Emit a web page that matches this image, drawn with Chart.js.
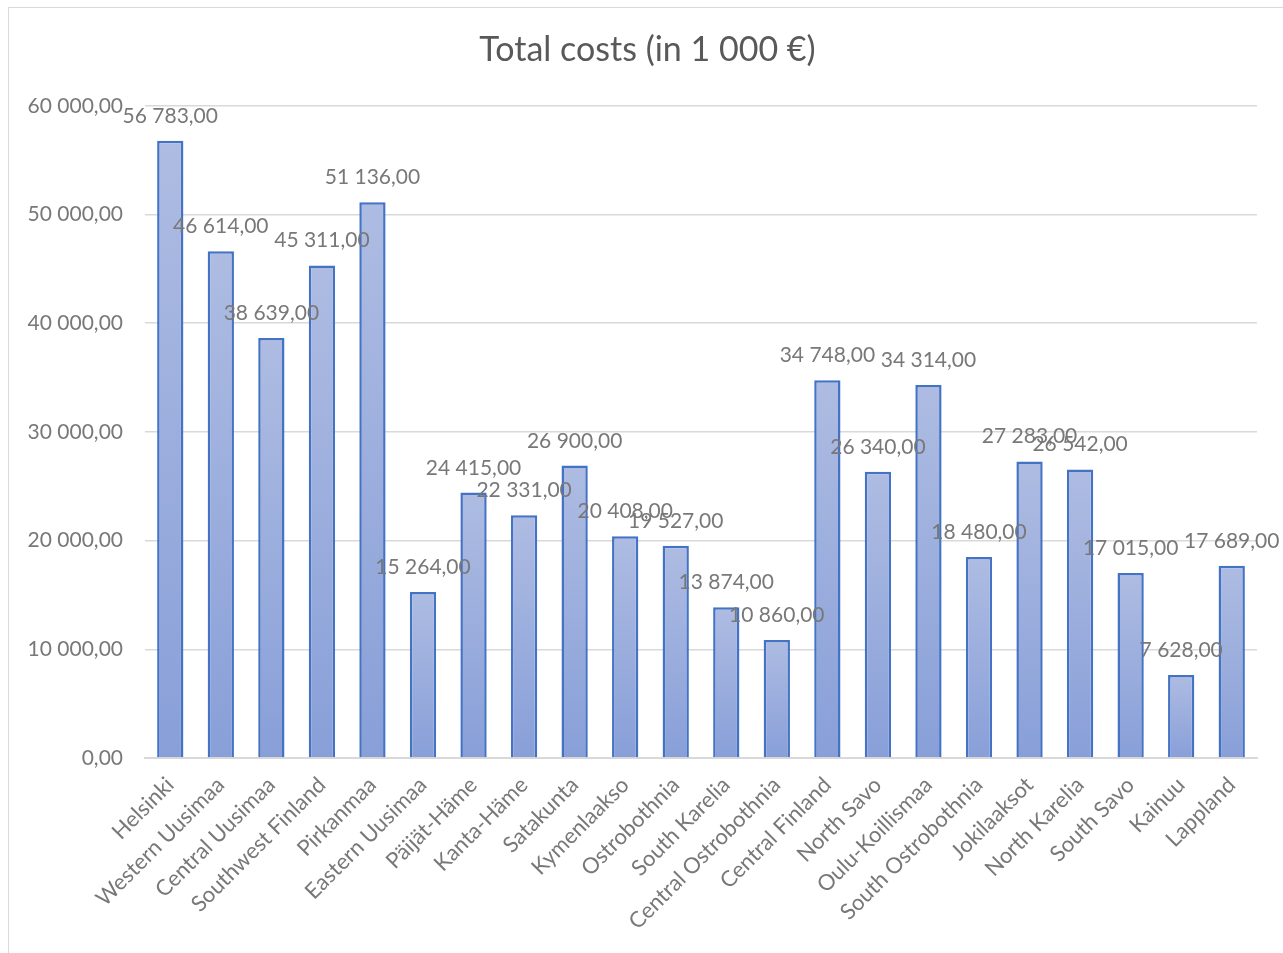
<!DOCTYPE html>
<html>
<head>
<meta charset="utf-8">
<script src="https://cdn.jsdelivr.net/npm/chart.js@4/dist/chart.umd.min.js"></script>
<style>
  html, body { margin: 0; padding: 0; background: #fff; overflow: hidden; }
  #wrap { position: relative; width: 1283px; height: 953px; }
  #frame {
    position: absolute; left: 8px; top: 7px; width: 1290px; height: 960px;
    border: 1px solid #d9d9d9; box-sizing: border-box; pointer-events: none;
  }
</style>
</head>
<body>
<div id="wrap">
  <canvas id="costChart" width="1283" height="953"></canvas>
  <div id="frame"></div>
</div>
<script>
const regions = [
  "Helsinki", "Western Uusimaa", "Central Uusimaa", "Southwest Finland",
  "Pirkanmaa", "Eastern Uusimaa", "Päijät-Häme", "Kanta-Häme", "Satakunta",
  "Kymenlaakso", "Ostrobothnia", "South Karelia", "Central Ostrobothnia",
  "Central Finland", "North Savo", "Oulu-Koillismaa", "South Ostrobothnia",
  "Jokilaaksot", "North Karelia", "South Savo", "Kainuu", "Lappland"
];
const totalCosts = [
  56783, 46614, 38639, 45311, 51136, 15264, 24415, 22331, 26900, 20408,
  19527, 13874, 10860, 34748, 26340, 34314, 18480, 27283, 26542, 17015,
  7628, 17689
];
const yTicks = [0, 10000, 20000, 30000, 40000, 50000, 60000];

const FONT = "Lato, 'Open Sans', sans-serif";
const GREY = "#787878";

// 56783 -> "56 783,00"
function fmt(v) {
  const parts = Number(v).toFixed(2).split(".");
  const intPart = parts[0].replace(/\B(?=(\d{3})+(?!\d))/g, " ");
  return intPart + "," + parts[1];
}

// values written above each bar
const valueLabels = {
  id: "valueLabels",
  afterDatasetsDraw(chart) {
    const ctx = chart.ctx;
    const meta = chart.getDatasetMeta(0);
    ctx.save();
    ctx.font = "21px " + FONT;
    ctx.fillStyle = GREY;
    ctx.textAlign = "center";
    ctx.textBaseline = "alphabetic";
    meta.data.forEach((bar, i) => {
      ctx.fillText(fmt(totalCosts[i]), bar.x, bar.y - 18);
    });
    ctx.restore();
  }
};

// centre the title over the frame rather than the whole canvas
const titleShift = {
  id: "titleShift",
  afterLayout(chart) {
    if (chart.titleBlock) chart.titleBlock.left += 38;
  }
};

new Chart(document.getElementById("costChart"), {
  type: "bar",
  data: {
    labels: regions,
    datasets: [
      {
        label: "Total costs",
        data: totalCosts,
        backgroundColor: (c) => {
          const chart = c.chart;
          if (!chart.chartArea || c.type !== "data") return "#9aaedd";
          const y = chart.scales.y;
          const top = y.getPixelForValue(c.raw);
          const base = y.getPixelForValue(0);
          const g = chart.ctx.createLinearGradient(0, top, 0, base);
          g.addColorStop(0, "#aebce2");
          g.addColorStop(1, "#889fd8");
          return g;
        },
        borderColor: "#4472c4",
        borderWidth: 2.5,
        borderSkipped: "bottom",
        barPercentage: 0.52,
        categoryPercentage: 1,
      },
    ],
  },
  options: {
    responsive: false,
    animation: false,
    layout: { padding: { left: 0, right: 26, top: 0, bottom: 0 } },
    plugins: {
      legend: { display: false },
      tooltip: { enabled: false },
      title: {
        display: true,
        text: "Total costs (in 1 000 €)",
        color: "#595959",
        font: { family: FONT, size: 34, weight: "normal" },
        padding: { top: 30, bottom: 35 },
      },
    },
    scales: {
      x: {
        grid: { display: false },
        border: { color: "#d9d9d9", width: 2 },
        ticks: {
          color: GREY,
          font: { family: FONT, size: 22 },
          minRotation: 45,
          maxRotation: 45,
          autoSkip: false,
          padding: 6,
        },
        afterFit(scale) { scale.height = 195; },
      },
      y: {
        min: 0,
        max: 60000,
        border: { display: false },
        grid: { color: "#d9d9d9", lineWidth: 1.5, drawTicks: false },
        afterBuildTicks(scale) { scale.ticks = yTicks.map((v) => ({ value: v })); },
        ticks: {
          color: GREY,
          font: { family: FONT, size: 21 },
          padding: 22,
          callback: (v) => fmt(v),
        },
        afterFit(scale) { scale.width = 145; },
      },
    },
  },
  plugins: [valueLabels, titleShift],
});
</script>
</body>
</html>
